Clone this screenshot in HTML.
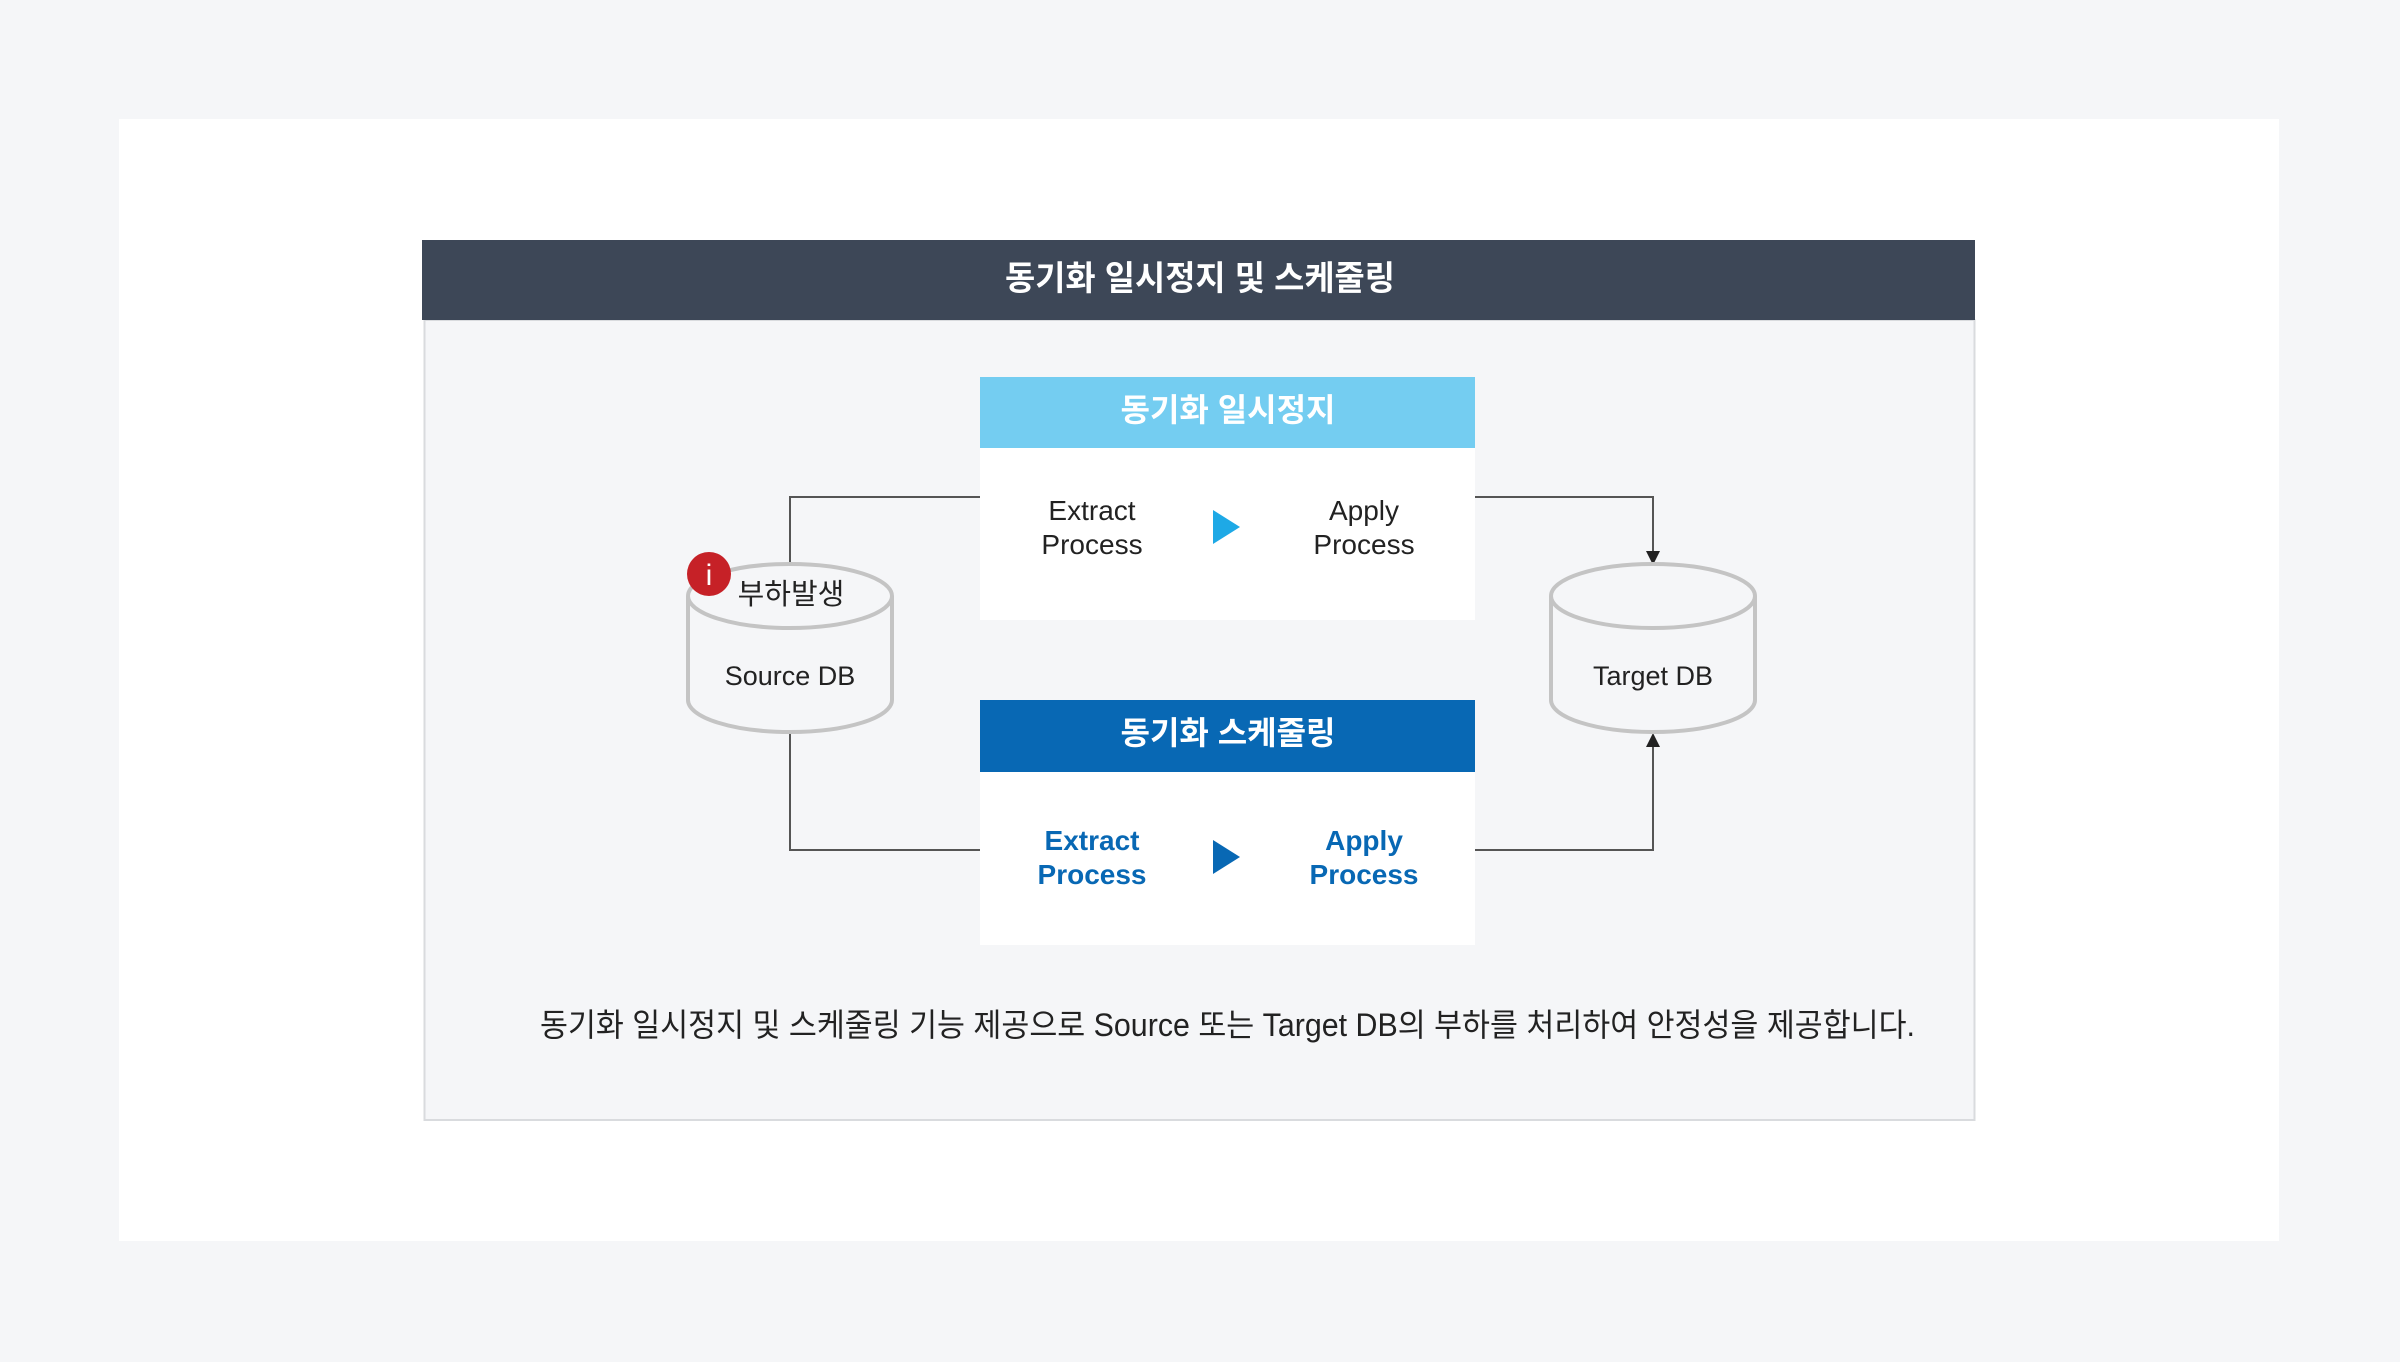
<!DOCTYPE html>
<html><head><meta charset="utf-8"><style>
html,body{margin:0;padding:0;background:#f5f6f8;}
svg{display:block;}
text{font-family:"Liberation Sans","Noto Sans CJK KR",sans-serif;}
</style></head><body>
<svg width="2400" height="1362" viewBox="0 0 2400 1362" xmlns="http://www.w3.org/2000/svg">
<rect x="0" y="0" width="2400" height="1362" fill="#f5f6f8"/>
<rect x="119" y="119" width="2160" height="1122" fill="#ffffff"/>
<rect x="424.5" y="320" width="1550" height="800" fill="#f5f6f8" stroke="#d9dbde" stroke-width="2"/>
<rect x="422" y="240" width="1553" height="80" fill="#3d4757"/>
<text x="1200" y="290" text-anchor="middle" font-size="34" font-weight="bold" fill="#ffffff" textLength="390" lengthAdjust="spacingAndGlyphs">동기화 일시정지 및 스케줄링</text>

<g fill="none" stroke="#555" stroke-width="2">
<polyline points="980,497 790,497 790,563"/>
<polyline points="790,732 790,850 980,850"/>
<polyline points="1475,497 1653,497 1653,556"/>
<polyline points="1475,850 1653,850 1653,740"/>
</g>
<polygon points="1646,551 1660,551 1653,565" fill="#222"/>
<polygon points="1646,747 1660,747 1653,733" fill="#222"/>

<g fill="#f5f6f8" stroke="#c4c4c4" stroke-width="4">
<path d="M688,596 L688,700 A102,32 0 0 0 892,700 L892,596"/>
<ellipse cx="790" cy="596" rx="102" ry="32"/>
<path d="M1551,596 L1551,700 A102,32 0 0 0 1755,700 L1755,596"/>
<ellipse cx="1653" cy="596" rx="102" ry="32"/>
</g>
<circle cx="709" cy="574" r="22" fill="#c62127"/>
<text x="709" y="585" text-anchor="middle" font-size="30" fill="#fff">i</text>
<text x="791" y="604" text-anchor="middle" font-size="29" fill="#222">부하발생</text>
<text x="790" y="685" text-anchor="middle" font-size="27" fill="#222">Source DB</text>
<text x="1653" y="685" text-anchor="middle" font-size="27" fill="#222">Target DB</text>

<rect x="980" y="377" width="495" height="243" fill="#ffffff"/>
<rect x="980" y="377" width="495" height="71" fill="#74cdf1"/>
<text x="1228" y="421" text-anchor="middle" font-size="32" font-weight="bold" fill="#ffffff">동기화 일시정지</text>
<text x="1092" y="520" text-anchor="middle" font-size="28" fill="#222">Extract</text>
<text x="1092" y="554" text-anchor="middle" font-size="28" fill="#222">Process</text>
<text x="1364" y="520" text-anchor="middle" font-size="28" fill="#222">Apply</text>
<text x="1364" y="554" text-anchor="middle" font-size="28" fill="#222">Process</text>
<polygon points="1213,510 1240,527 1213,544" fill="#1ea9e6"/>

<rect x="980" y="700" width="495" height="245" fill="#ffffff"/>
<rect x="980" y="700" width="495" height="72" fill="#0868b4"/>
<text x="1228" y="744" text-anchor="middle" font-size="32" font-weight="bold" fill="#ffffff">동기화 스케줄링</text>
<text x="1092" y="850" text-anchor="middle" font-size="28" font-weight="bold" fill="#0868b4">Extract</text>
<text x="1092" y="884" text-anchor="middle" font-size="28" font-weight="bold" fill="#0868b4">Process</text>
<text x="1364" y="850" text-anchor="middle" font-size="28" font-weight="bold" fill="#0868b4">Apply</text>
<text x="1364" y="884" text-anchor="middle" font-size="28" font-weight="bold" fill="#0868b4">Process</text>
<polygon points="1213,840 1240,857 1213,874" fill="#0868b4"/>

<text x="540" y="1036" font-size="32" fill="#222" textLength="1375" lengthAdjust="spacingAndGlyphs">동기화 일시정지 및 스케줄링 기능 제공으로 Source 또는 Target DB의 부하를 처리하여 안정성을 제공합니다.</text>
</svg>
</body></html>
